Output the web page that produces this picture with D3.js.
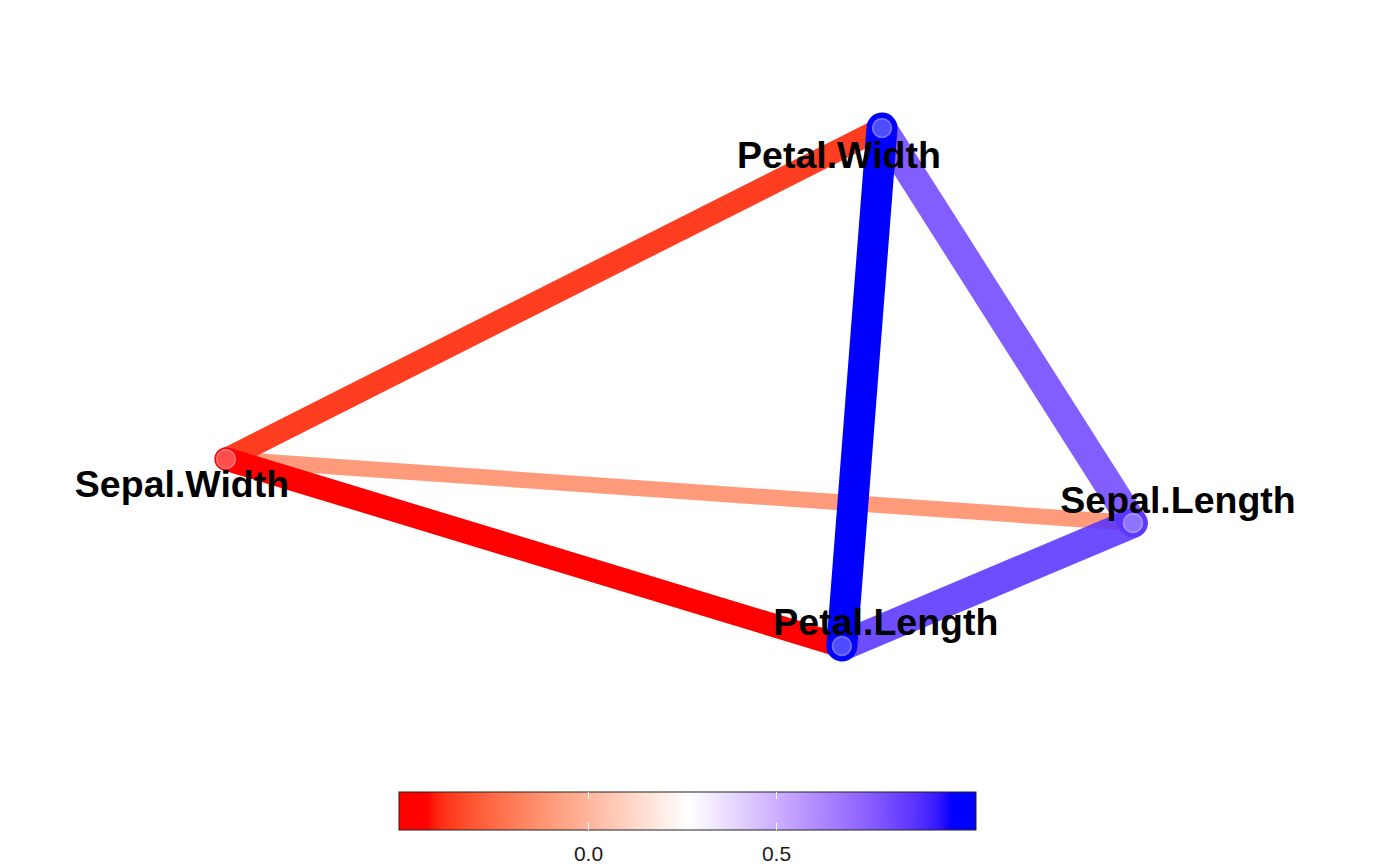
<!DOCTYPE html>
<html>
<head>
<meta charset="utf-8">
<script src="https://cdn.jsdelivr.net/npm/d3@7"></script>
<style>
  body { margin: 0; background: #fff; }
  svg { display: block; }
</style>
</head>
<body>
<svg></svg>
<script>
// nodes (multidimensional scaling layout, arbitrary units)
var nodeNames = ["Sepal.Length", "Sepal.Width", "Petal.Length", "Petal.Width"]
var nodeX = [1.0, -1.0, 0.358, 0.4465]
var nodeY = [-0.525, -0.278, -1.0, 1.0]

// correlations between pairs
var edgeFrom = ["Sepal.Length", "Sepal.Length", "Sepal.Length", "Sepal.Width", "Sepal.Width", "Petal.Length"]
var edgeTo   = ["Sepal.Width", "Petal.Length", "Petal.Width", "Petal.Length", "Petal.Width", "Petal.Width"]
var edgeR    = [-0.118, 0.872, 0.818, -0.428, -0.366, 0.963]

var legendTicks = [0.0, 0.5]
var legendDomain = [-0.503, 1.032]

var screen = {width:1400, height:866}

var svg = d3.select("svg")
    .attr("width", screen.width)
    .attr("height", screen.height)

var xScale = d3.scaleLinear().domain([-1, 1]).range([226, 1133])
var yScale = d3.scaleLinear().domain([-1, 1]).range([646, 128])

var rMin = d3.min(edgeR), rMax = d3.max(edgeR)
var colour = d3.scaleLinear()
    .domain([rMin, (rMin + rMax) / 2, rMax])
    .range(["red", "white", "blue"])
    .interpolate(d3.interpolateLab)
    .clamp(true)

var width = d3.scaleSqrt().domain([0, 1]).range([7.9, 31.4])
var alpha = d3.scaleLinear().domain([rMin, 0.3, 0.9, rMax]).range([1, 0.87, 0.87, 1]).clamp(true)

var pos = {}
nodeNames.forEach(function(n, i) { pos[n] = {x: xScale(nodeX[i]), y: yScale(nodeY[i])} })

var edges = edgeR.map(function(r, i) { return {from: edgeFrom[i], to: edgeTo[i], r: r} })
edges.sort(function(a, b) { return Math.abs(a.r) - Math.abs(b.r) })

var g = svg.append("g").attr("id", "graph")

g.selectAll("line")
    .data(edges)
    .enter()
    .append("line")
    .attr("x1", function(d) { return pos[d.from].x })
    .attr("y1", function(d) { return pos[d.from].y })
    .attr("x2", function(d) { return pos[d.to].x })
    .attr("y2", function(d) { return pos[d.to].y })
    .attr("stroke", function(d) { return colour(d.r) })
    .attr("stroke-opacity", function(d) { return alpha(d.r) })
    .attr("stroke-width", function(d) { return width(Math.abs(d.r)) })
    .attr("stroke-linecap", "round")

g.selectAll("circle")
    .data(nodeNames)
    .enter()
    .append("circle")
    .attr("cx", function(n) { return pos[n].x })
    .attr("cy", function(n) { return pos[n].y })
    .attr("r", 9.5)
    .attr("fill", "white")
    .attr("fill-opacity", 0.3)
    .attr("stroke", "white")
    .attr("stroke-opacity", 0.35)
    .attr("stroke-width", 1.6)

// repelled label offsets
var labelDx = {"Sepal.Length": 45, "Sepal.Width": -44, "Petal.Length": 44, "Petal.Width": -43}
var labelDy = {"Sepal.Length": -10, "Sepal.Width": 38, "Petal.Length": -11, "Petal.Width": 40}

g.selectAll("text")
    .data(nodeNames)
    .enter()
    .append("text")
    .attr("x", function(n) { return pos[n].x + labelDx[n] })
    .attr("y", function(n) { return pos[n].y + labelDy[n] })
    .attr("text-anchor", "middle")
    .attr("font-family", "Liberation Sans, Arial, sans-serif")
    .attr("font-weight", "bold")
    .attr("font-size", 37.5)
    .attr("fill", "black")
    .text(function(n) { return n })

// legend colourbar
var legend = {x: 399, y: 792, w: 577, h: 38}
var lScale = d3.scaleLinear().domain(legendDomain).range([legend.x, legend.x + legend.w])

var grad = svg.append("defs").append("linearGradient")
    .attr("id", "bar")
    .attr("x1", "0%").attr("x2", "100%").attr("y1", "0%").attr("y2", "0%")
grad.selectAll("stop")
    .data(d3.range(0, 101))
    .enter()
    .append("stop")
    .attr("offset", function(i) { return i + "%" })
    .attr("stop-color", function(i) { return colour(lScale.invert(legend.x + legend.w * i / 100)) })

var lg = svg.append("g").attr("id", "legend")
lg.append("rect")
    .attr("x", legend.x).attr("y", legend.y)
    .attr("width", legend.w).attr("height", legend.h)
    .attr("fill", "url(#bar)")
    .attr("stroke", "#222")
    .attr("stroke-width", 1)

legendTicks.forEach(function(t) {
    var x = Math.round(lScale(t)) + 0.5
    lg.append("line").attr("x1", x).attr("x2", x)
        .attr("y1", legend.y).attr("y2", legend.y + 7)
        .attr("stroke", "white").attr("stroke-width", 1)
    lg.append("line").attr("x1", x).attr("x2", x)
        .attr("y1", legend.y + legend.h - 7).attr("y2", legend.y + legend.h)
        .attr("stroke", "white").attr("stroke-width", 1)
    lg.append("text")
        .attr("x", x).attr("y", 861)
        .attr("text-anchor", "middle")
        .attr("font-family", "Liberation Sans, Arial, sans-serif")
        .attr("font-size", 21)
        .attr("fill", "#1a1a1a")
        .text(d3.format(".1f")(t))
})
</script>
</body>
</html>
